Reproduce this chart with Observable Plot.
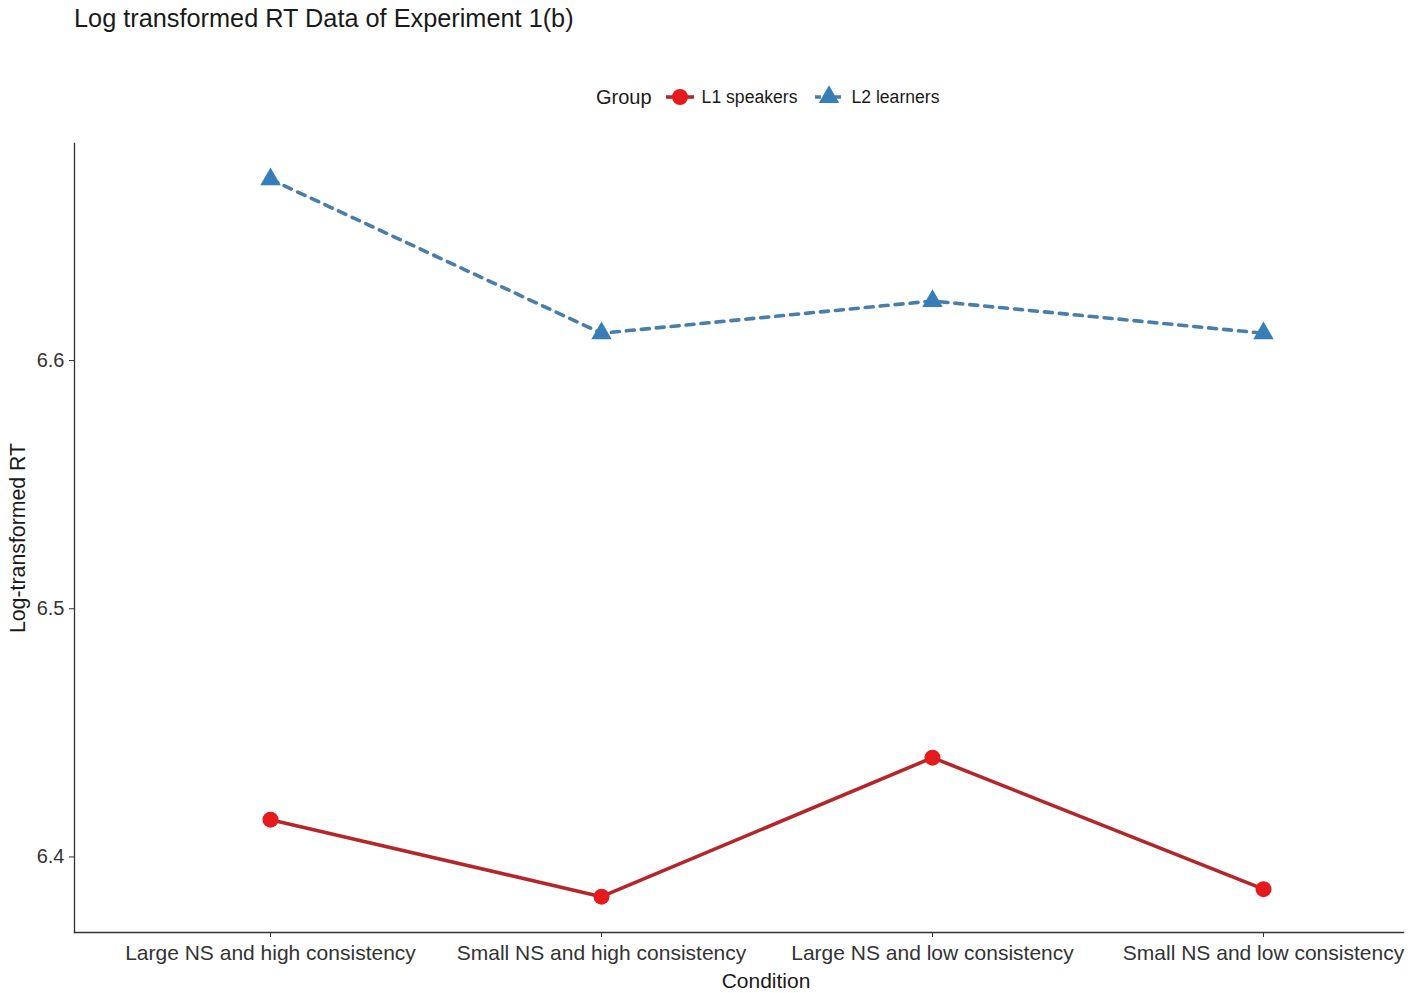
<!DOCTYPE html>
<html>
<head>
<meta charset="utf-8">
<script src="https://cdn.jsdelivr.net/npm/d3@7"></script>
<script src="https://cdn.jsdelivr.net/npm/@observablehq/plot@0.6"></script>
<style>
  html, body { margin: 0; padding: 0; background: #fff; }
  body { width: 1419px; height: 993px; overflow: hidden; font-family: "Liberation Sans", Arial, sans-serif; color: #1a1a1a; }
  #title { height: 55px; line-height: 36px; padding-left: 74px; font-size: 25.3px; box-sizing: border-box; }
  #legend { height: 70px; position: relative; }
  #chart svg { display: block; }
</style>
</head>
<body>
<div id="title">Log transformed RT Data of Experiment 1(b)</div>
<div id="legend"></div>
<div id="chart"></div>
<script>
// Conditions on the x axis, in display order
const conditions = [
  "Large NS and high consistency",
  "Small NS and high consistency",
  "Large NS and low consistency",
  "Small NS and low consistency"
];

// Group names
const groups = ["L1 speakers", "L2 learners"];

// Mean log-transformed RT per condition
const l1Speakers = [6.415, 6.384, 6.440, 6.387];
const l2Learners = [6.673, 6.611, 6.624, 6.611];

// y-axis tick values
const yTicks = [6.4, 6.5, 6.6];

// Styling per group
const pointColors = ["#e41a1c", "#377eb8"];
const lineColors  = ["#b5262b", "#4a7eaa"];
const symbols     = ["circle", "triangle"];
const dashes      = [null, "8,7"];

const series = [l1Speakers, l2Learners];
const rows = groups.flatMap((g, gi) =>
  conditions.map((c, ci) => ({group: g, condition: c, value: series[gi][ci]}))
);

// ggplot-style 5% expansion of the continuous scale
const [lo, hi] = d3.extent(rows, d => d.value);
const pad = (hi - lo) * 0.05;

const marks = [];
groups.forEach((g, gi) => {
  const sub = rows.filter(d => d.group === g);
  marks.push(Plot.line(sub, {
    x: "condition", y: "value",
    stroke: lineColors[gi], strokeWidth: 3.6,
    strokeDasharray: dashes[gi] || undefined
  }));
});
groups.forEach((g, gi) => {
  const sub = rows.filter(d => d.group === g);
  marks.push(Plot.dot(sub, {
    x: "condition", y: "value",
    symbol: () => symbols[gi],
    fill: pointColors[gi], stroke: "none",
    r: gi === 0 ? 8 : 7.6
  }));
});

const chart = Plot.plot({
  width: 1419,
  height: 868,
  marginLeft: 74,
  marginRight: 16,
  marginTop: 18,
  marginBottom: 61,
  style: {fontFamily: "'Liberation Sans', Arial, sans-serif", background: "#fff", color: "#333"},
  x: {type: "point", domain: conditions, range: [270, 1263], padding: 0},
  y: {domain: [lo - pad, hi + pad]},
  symbol: {type: "identity"},
  marks: [
    Plot.frame({anchor: "bottom", stroke: "#333", strokeWidth: 1.3}),
    Plot.frame({anchor: "left", stroke: "#333", strokeWidth: 1.3}),
    Plot.axisX({tickSize: 5, tickPadding: 8, fontSize: 21, label: null, stroke: "#333", fill: "#333"}),
    Plot.axisY({ticks: yTicks, tickFormat: d3.format(".1f"), tickSize: 5, tickPadding: 5, fontSize: 20, label: null, stroke: "#333", fill: "#333"}),
    Plot.text(["Condition"], {frameAnchor: "bottom", dx: 27, dy: 55, fontSize: 21, fill: "#1a1a1a"}),
    Plot.text(["Log-transformed RT"], {frameAnchor: "left", textAnchor: "middle", rotate: -90, dx: -56, fontSize: 21.3, fill: "#1a1a1a"}),
    ...marks
  ]
});
document.getElementById("chart").appendChild(chart);

// Legend: "Group" title followed by one key per group (point over line segment)
const legend = d3.select("#legend");
const row = legend.append("div")
  .style("position", "absolute").style("left", "596px").style("top", "27px")
  .style("display", "flex").style("align-items", "center").style("height", "30px");
row.append("span").text("Group").style("font-size", "20px").style("margin-right", "14px");
groups.forEach((g, gi) => {
  const svg = row.append("svg").attr("width", 28).attr("height", 30).style("margin-right", "8px");
  svg.append("line").attr("x1", 0).attr("x2", 28).attr("y1", 15).attr("y2", 15)
    .attr("stroke", lineColors[gi]).attr("stroke-width", 3.6)
    .attr("stroke-dasharray", gi === 0 ? null : "6,4");
  const sym = d3.symbol(gi === 0 ? d3.symbolCircle : d3.symbolTriangle, Math.PI * (gi === 0 ? 64 : 58));
  svg.append("path").attr("d", sym()).attr("transform", "translate(14,15)").attr("fill", pointColors[gi]);
  row.append("span").text(g).style("font-size", "17.6px").style("margin-right", "18px");
});
</script>
</body>
</html>
